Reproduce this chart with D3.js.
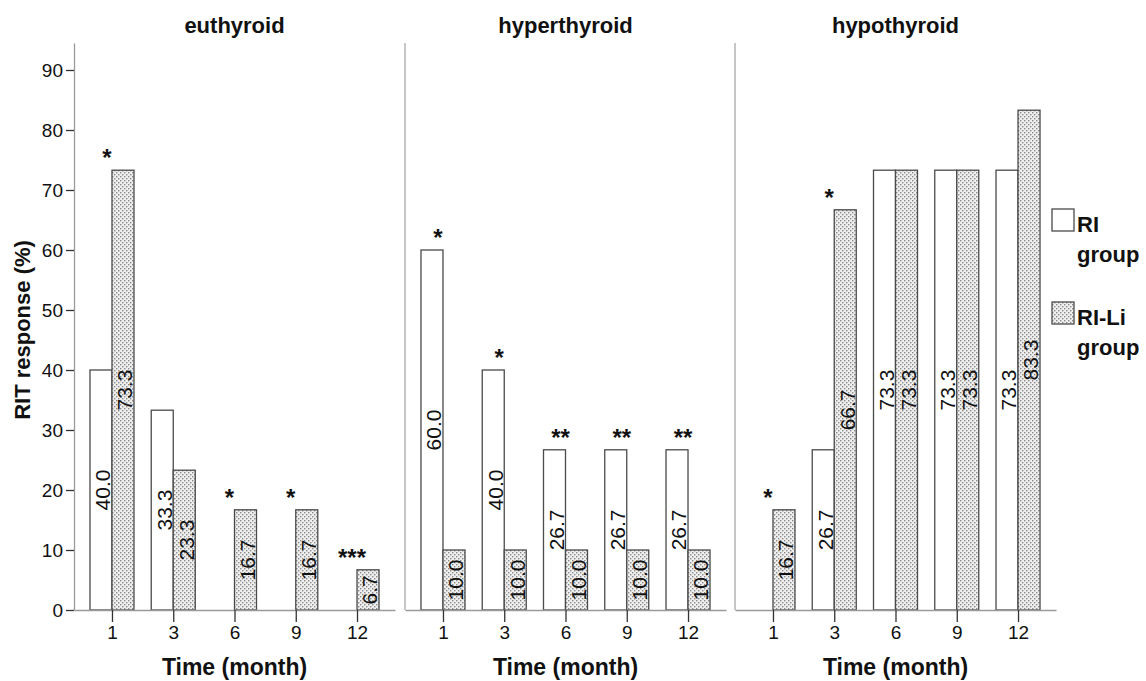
<!DOCTYPE html>
<html lang="en">
<head>
<meta charset="utf-8">
<title>RIT response by thyroid status</title>
<script src="https://d3js.org/d3.v7.min.js"></script>
<style>
body { margin: 0; background: #fff; }
text { font-family: "Liberation Sans", Arial, sans-serif; fill: #111; }
.bar { stroke: #4a4a4a; stroke-width: 1.3px; }
.axis path { stroke: #9a9a9a; stroke-width: 1.3px; }
.axis line { stroke: #333; stroke-width: 1.3px; }
.axis text { font-size: 19px; font-family: "Liberation Sans", Arial, sans-serif; fill: #111; }
.title { font-size: 22px; font-weight: bold; }
.barlabel { font-size: 21px; }
.sig { font-size: 24px; font-weight: bold; }
</style>
</head>
<body>
<script>

// values
var months = ["1", "3", "6", "9", "12"];
var panels = ["euthyroid", "hyperthyroid", "hypothyroid"];
var groups = ["RI group", "RI-Li group"];

var euthyroidRI   = [40.0, 33.3, 0, 0, 0];
var euthyroidRILi = [73.3, 23.3, 16.7, 16.7, 6.7];
var hyperRI       = [60.0, 40.0, 26.7, 26.7, 26.7];
var hyperRILi     = [10.0, 10.0, 10.0, 10.0, 10.0];
var hypoRI        = [0, 26.7, 73.3, 73.3, 73.3];
var hypoRILi      = [16.7, 66.7, 73.3, 73.3, 83.3];

var euthyroidSig = ["*", "", "*", "*", "***"];
var hyperSig     = ["*", "*", "**", "**", "**"];
var hypoSig      = ["*", "*", "", "", ""];

var yTicks = [0, 10, 20, 30, 40, 50, 60, 70, 80, 90];

var panelData = [
  { name: panels[0], ri: euthyroidRI, rili: euthyroidRILi, sig: euthyroidSig },
  { name: panels[1], ri: hyperRI, rili: hyperRILi, sig: hyperSig },
  { name: panels[2], ri: hypoRI, rili: hypoRILi, sig: hypoSig }
];

var width = 1146, height = 681;
var plotTop = 43, plotBottom = 610;
var panelLeft = [74, 405, 735];
var panelW = 321;
var barW = 22;

var svg = d3.select("body").append("svg")
    .attr("width", width)
    .attr("height", height);

var defs = svg.append("defs");
var pat = defs.append("pattern")
    .attr("id", "dots")
    .attr("width", 4)
    .attr("height", 4)
    .attr("patternUnits", "userSpaceOnUse");
pat.append("rect").attr("width", 4).attr("height", 4).attr("fill", "#efefef");
pat.append("rect").attr("x", 0).attr("y", 0).attr("width", 1.4).attr("height", 1.4).attr("fill", "#8a8a8a");
pat.append("rect").attr("x", 2).attr("y", 2).attr("width", 1.4).attr("height", 1.4).attr("fill", "#8a8a8a");

var y = d3.scaleLinear()
    .domain([0, 94.5])
    .range([plotBottom, plotTop]);

// y axis on first panel
svg.append("g")
    .attr("class", "axis")
    .attr("transform", "translate(" + panelLeft[0] + ",0)")
    .call(d3.axisLeft(y).tickValues(yTicks).tickSize(8).tickSizeOuter(0).tickPadding(3));

svg.append("text")
    .attr("class", "title")
    .attr("transform", "translate(30,330) rotate(-90)")
    .style("text-anchor", "middle")
    .text("RIT response (%)");

panelData.forEach(function(p, i) {
  var left = panelLeft[i];
  var x = d3.scalePoint()
      .domain(months)
      .range([left, left + panelW])
      .padding(0.62);

  var g = svg.append("g");

  if (i > 0) {
    g.append("line")
        .attr("x1", left).attr("x2", left)
        .attr("y1", plotTop).attr("y2", plotBottom)
        .attr("stroke", "#a8a8a8")
        .attr("stroke-width", 1.3);
  }

  g.append("text")
      .attr("class", "title")
      .attr("x", left + panelW / 2)
      .attr("y", 33)
      .style("text-anchor", "middle")
      .text(p.name);

  var rows = months.map(function(m, j) {
    return { month: m, ri: p.ri[j], rili: p.rili[j], sig: p.sig[j] };
  });

  // RI bars (white)
  g.selectAll(".ri").data(rows.filter(function(d) { return d.ri > 0; }))
    .enter().append("rect")
      .attr("class", "bar")
      .attr("x", function(d) { return x(d.month) - barW; })
      .attr("y", function(d) { return y(d.ri); })
      .attr("width", barW)
      .attr("height", function(d) { return plotBottom - y(d.ri); })
      .attr("fill", "#fff");

  // RI-Li bars (dotted)
  g.selectAll(".rili").data(rows.filter(function(d) { return d.rili > 0; }))
    .enter().append("rect")
      .attr("class", "bar")
      .attr("x", function(d) { return x(d.month); })
      .attr("y", function(d) { return y(d.rili); })
      .attr("width", barW)
      .attr("height", function(d) { return plotBottom - y(d.rili); })
      .attr("fill", "url(#dots)");

  // value labels
  g.selectAll(".lri").data(rows.filter(function(d) { return d.ri > 0; }))
    .enter().append("text")
      .attr("class", "barlabel")
      .attr("transform", function(d) {
        return "translate(" + (x(d.month) - barW / 2 + 2) + "," + ((y(d.ri) + plotBottom) / 2) + ") rotate(-90)";
      })
      .attr("dy", "0.35em")
      .style("text-anchor", "middle")
      .text(function(d) { return d.ri.toFixed(1); });

  g.selectAll(".lrili").data(rows.filter(function(d) { return d.rili > 0; }))
    .enter().append("text")
      .attr("class", "barlabel")
      .attr("transform", function(d) {
        return "translate(" + (x(d.month) + barW / 2 + 2) + "," + ((y(d.rili) + plotBottom) / 2) + ") rotate(-90)";
      })
      .attr("dy", "0.35em")
      .style("text-anchor", "middle")
      .text(function(d) { return d.rili.toFixed(1); });

  // significance marks
  g.selectAll(".sig").data(rows.filter(function(d) { return d.sig !== ""; }))
    .enter().append("text")
      .attr("class", "sig")
      .attr("x", function(d) { return x(d.month) - 5; })
      .attr("y", function(d) { return y(Math.max(d.ri, d.rili)) - 4; })
      .style("text-anchor", "middle")
      .text(function(d) { return d.sig; });

  // x axis
  g.append("g")
      .attr("class", "axis")
      .attr("transform", "translate(0," + plotBottom + ")")
      .call(d3.axisBottom(x).tickSize(12).tickSizeOuter(0).tickPadding(4));

  g.append("text")
      .attr("class", "title")
      .attr("x", left + panelW / 2)
      .attr("y", 675)
      .style("text-anchor", "middle")
      .style("font-size", "23px")
      .text("Time (month)");
});

// legend
var legend = svg.append("g");
var legendY = [209, 302];
groups.forEach(function(name, k) {
  var words = name.split(" ");
  legend.append("rect")
      .attr("class", "bar")
      .attr("x", 1052)
      .attr("y", legendY[k])
      .attr("width", 22)
      .attr("height", 22)
      .attr("fill", k === 0 ? "#fff" : "url(#dots)");
  legend.append("text")
      .attr("class", "title")
      .attr("x", 1077)
      .attr("y", legendY[k] + 23)
      .text(words[0]);
  legend.append("text")
      .attr("class", "title")
      .attr("x", 1077)
      .attr("y", legendY[k] + 53)
      .text(words[1]);
});

</script>
</body>
</html>
